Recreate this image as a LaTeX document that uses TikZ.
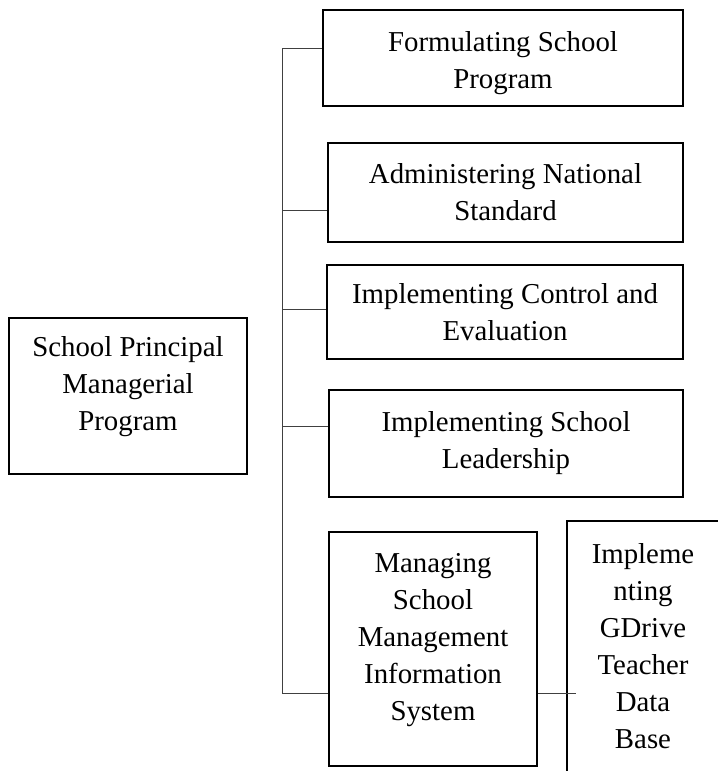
\documentclass[tikz,border=0pt]{standalone}
\usepackage{fontspec}
\setmainfont{Liberation Serif}
\usetikzlibrary{calc}
\tikzset{box/.style={shape=rectangle, draw, line width=1.4pt, align=center,
    inner sep=0pt, font=\fontsize{20.5}{26.3}\selectfont}}
\tikzset{link/.style={draw=black!75, line width=0.7pt}}

\begin{document}
\begin{tikzpicture}[x=0.025cm, y=-0.025cm]
  \useasboundingbox (0,0) rectangle (718,771);
  % left box
  \node[box, minimum width=5.95cm, minimum height=3.9cm] (main) at (128,396)
  {School Principal\\Managerial\\Program\\[-8pt]};
  % program boxes
  \node[box, minimum width=9cm, minimum height=2.4cm] (f1) at (503,58)
  {\rule{0pt}{21pt}Formulating School\\Program};
  \node[box, minimum width=8.875cm, minimum height=2.475cm] (f2) at (505.5,192.5)
  {Administering National\\Standard};
  \node[box, minimum width=8.9cm, minimum height=2.35cm] (f3) at (505,312)
  {Implementing Control and\\Evaluation};
  \node[box, minimum width=8.85cm, minimum height=2.675cm] (f4) at (506,443.5)
  {Implementing School\\Leadership};
  \node[box, minimum width=5.2cm, minimum height=5.85cm] (f5) at (433,649)
  {Managing\\School\\Management\\Information\\System\\[-9pt]};
  % open box on the right
  \node[box, draw=none, minimum width=3.75cm, minimum height=6.225cm] (f6) at (643,646.5)
  {Impleme\\nting\\GDrive\\Teacher\\Data\\Base};
  \draw[line width=1.4pt] (f6.south west) -- (f6.north west) -- (f6.north east);
  %%%%%%%%%
  \coordinate (t) at (282,0);
  \path (f1.west) ++(0,-10) coordinate (j1);
  \path (f2.west) ++(0,17.5) coordinate (j2);
  \path (f3.west) ++(0,-3) coordinate (j3);
  \path (f4.west) ++(0,-17.5) coordinate (j4);
  \path (f5.west) ++(0,44) coordinate (j5);
  \path (f5.east) ++(0,44) coordinate (j6);
  \draw[link] (j1) -| (t |- j5) -- (j5);
  \foreach \j in {j2, j3, j4} \draw[link] (\j) -- (\j -| t);
  \draw[link] (j6) -- ($(j6 -| f6.west)+(9,0)$);
\end{tikzpicture}
\end{document}
